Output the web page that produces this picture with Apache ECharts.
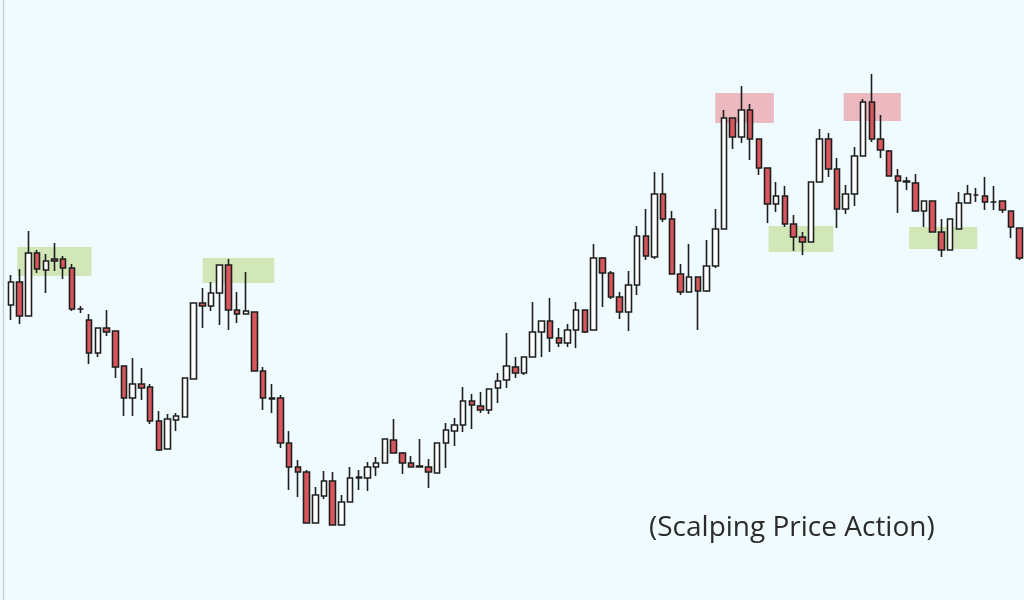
<!DOCTYPE html>
<html><head><meta charset="utf-8">
<script src="https://cdn.jsdelivr.net/npm/echarts@6/dist/echarts.min.js"></script>
<style>html,body{margin:0;padding:0;background:#effbfe}#c{width:1024px;height:600px}</style>
</head><body><div id="c"></div>
<script>
// Candle values (price units)
const opens = [
295,318,284,347,330,341,341,332,291,280,
247,272,269,234,202,216,213,179,151,180,
183,221,297,294,307,335,290,286,288,229,
202,202,157,133,128,77,104,119,75,98,
122,122,133,137,160,147,137,133,133,127,
157,169,175,199,194,190,212,220,233,227,
243,268,279,262,257,270,290,270,342,327,
303,288,315,364,343,406,381,326,308,323,
309,334,371,482,463,490,461,432,396,404,
376,363,358,418,461,431,391,406,444,498,
461,449,424,419,417,389,399,368,350,371,
397,405,404,398,399,389,372];
const closes = [
318,284,347,331,339,339,332,291,291,247,
272,268,233,202,216,212,179,150,181,184,
222,297,294,307,335,290,286,289,229,202,
201,157,133,128,77,105,119,75,98,122,
123,133,137,161,147,137,133,134,128,157,
170,175,199,195,190,211,219,234,227,243,
268,279,262,257,270,290,268,342,327,303,
288,315,364,344,406,381,326,308,323,309,
334,371,482,463,490,461,432,396,404,376,
363,358,418,461,431,391,406,444,498,461,
450,424,419,418,389,399,368,350,381,397,
406,405,398,398,390,373,342];
const lows = [
280,276,284,327,307,329,321,289,287,236,
243,264,222,184,184,200,176,149,151,169,
183,221,272,289,275,270,277,286,229,190,
187,152,110,103,77,77,101,75,75,98,
110,109,124,137,147,126,133,133,112,127,
132,154,168,171,187,186,197,212,222,225,
243,243,248,253,253,252,267,270,293,301,
281,269,305,340,341,378,326,305,308,270,
308,332,371,451,457,440,425,377,388,373,
349,345,358,418,423,372,386,394,444,458,
442,424,387,410,389,373,368,343,350,371,
397,398,390,390,387,362,340];
const highs = [
325,331,369,350,346,357,344,336,294,286,
272,290,269,234,242,232,216,189,186,187,
222,297,312,318,335,341,308,328,288,233,
216,205,169,140,130,113,129,128,105,133,
130,138,143,161,181,148,144,161,141,157,
177,182,213,206,208,211,227,267,243,243,
298,279,302,272,276,298,290,356,343,329,
308,329,374,391,428,427,389,336,356,323,
360,391,490,482,514,496,461,432,418,414,
385,368,418,471,467,442,415,453,501,526,
485,450,431,423,426,399,399,381,381,408,
415,412,423,414,399,389,372];
const categories = opens.map((_, i) => 'Bar ' + (i + 1));

// Highlight zones (bar-index units and price units)
const zoneStart = [0.72, 22.05, 81.0, 87.12, 95.76, 103.29];
const zoneEnd   = [9.25, 30.28, 87.73, 94.57, 102.33, 111.12];
const zoneLow   = [324, 317, 477, 348, 479, 351];
const zoneHigh  = [353, 342, 507, 374, 507, 373];
const zoneKind  = ['support', 'support', 'resistance', 'support', 'resistance', 'support'];

const title = '(Scalping Price Action)';

const zoneColors = { support: 'rgba(185,215,125,0.55)', resistance: 'rgba(236,120,130,0.5)' };
const candleData = opens.map((o, i) => [o, closes[i], lows[i], highs[i]]);
const areas = zoneStart.map((s, i) => [
  { coord: [s, zoneHigh[i]], itemStyle: { color: zoneColors[zoneKind[i]] } },
  { coord: [zoneEnd[i], zoneLow[i]] }
]);

const chart = echarts.init(document.getElementById('c'), null, { renderer: 'canvas' });
chart.setOption({
  backgroundColor: '#effbfe',
  animation: false,
  grid: { left: 6.64, top: 0, width: 1020.24, height: 600 },
  xAxis: [
    { type: 'category', data: categories, show: false, boundaryGap: true },
    { type: 'value', min: -0.5, max: opens.length - 0.5, show: false }
  ],
  yAxis: { type: 'value', min: 0, max: 600, show: false },
  series: [
    {
      type: 'candlestick',
      data: candleData,
      barWidth: 6,
      z: 2,
      itemStyle: {
        color: '#ffffff', color0: '#d9575c',
        borderColor: '#1e1e1e', borderColor0: '#1e1e1e', borderWidth: 1.6
      }
    },
    {
      type: 'line', xAxisIndex: 1, data: [], z: 5, silent: true,
      markArea: { silent: true, data: areas, label: { show: false } }
    }
  ],
  graphic: [
    { type: 'line', shape: { x1: 3.5, y1: 0, x2: 3.5, y2: 600 }, style: { stroke: '#c8d4da', lineWidth: 1.5 } },
    { type: 'text', left: 649, top: 514, style: { text: title, font: '28px "Open Sans"', fill: '#2b2b2b' } }
  ]
});
</script></body></html>
